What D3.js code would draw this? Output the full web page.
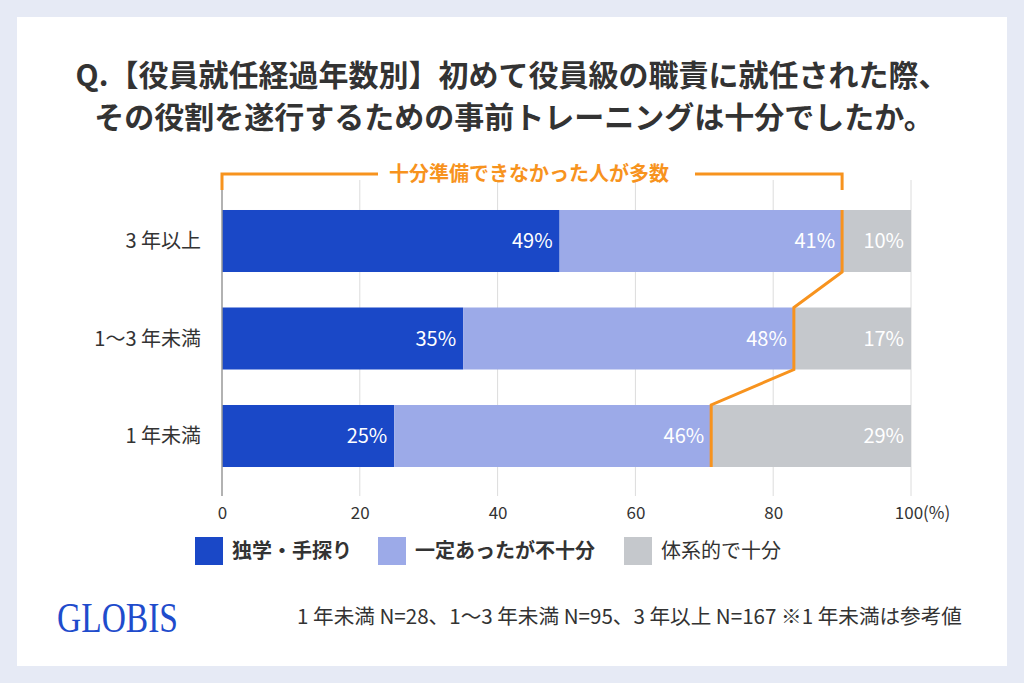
<!DOCTYPE html>
<html>
<head>
<meta charset="utf-8">
<script src="https://cdn.jsdelivr.net/npm/d3@7"></script>
<style>
  body { margin: 0; background: #e6eaf5; }
  text { font-family: "Noto Sans CJK JP", "Noto Sans", sans-serif; }
</style>
</head>
<body>
<div id="chart"></div>
<script>
// data
const categories = ["3 年以上", "1～3 年未満", "1 年未満"];
const seriesNames = ["独学・手探り", "一定あったが不十分", "体系的で十分"];
const selfTaught = [49, 35, 25];
const partial = [41, 48, 46];
const systematic = [10, 17, 29];
const xTicks = [0, 20, 40, 60, 80, 100];
const colors = ["#1a48c7", "#9caae8", "#c5c8cc"];

const svg = d3.select("#chart").append("svg")
    .attr("width", 1024)
    .attr("height", 683);

svg.append("rect").attr("width", 1024).attr("height", 683).attr("fill", "#e6eaf5");
svg.append("rect").attr("x", 17).attr("y", 17).attr("width", 990).attr("height", 649).attr("fill", "#fff");

// title
const title = svg.append("text")
    .attr("x", 512)
    .attr("text-anchor", "middle")
    .style("font-size", "30px")
    .style("font-weight", "bold")
    .attr("fill", "#333");
title.append("tspan").attr("x", 512).attr("y", 86).text("Q.【役員就任経過年数別】初めて役員級の職責に就任された際、");
title.append("tspan").attr("x", 514).attr("y", 128).text("その役割を遂行するための事前トレーニングは十分でしたか。");

const x = d3.scaleLinear().domain([0, 100]).range([222, 911]);
const y = d3.scaleBand().domain(categories).range([192.25, 484.75]).paddingInner(0.364).paddingOuter(0.182);

// grid
svg.append("g").selectAll("line")
    .data(xTicks.slice(1))
    .join("line")
    .attr("x1", d => x(d)).attr("x2", d => x(d))
    .attr("y1", 180).attr("y2", 496)
    .attr("stroke", "#dcdcdc").attr("stroke-width", 1);

// axis tick labels
const xAxis = svg.append("g")
    .attr("transform", "translate(0,496)")
    .call(d3.axisBottom(x).tickValues(xTicks).tickSize(0).tickPadding(11)
        .tickFormat(d => d === 100 ? "100(%)" : d));
xAxis.select(".domain").remove();
xAxis.selectAll("text")
    .style("font-size", "17px")
    .attr("fill", "#333")
    .style("font-family", "'Noto Sans CJK JP', sans-serif");
xAxis.selectAll(".tick").filter(d => d === 100).select("text").attr("dx", "11px");

// stacked data
const rows = categories.map((c, i) => ({ cat: c, vals: [selfTaught[i], partial[i], systematic[i]] }));
const segs = [];
rows.forEach(r => {
    let acc = 0;
    r.vals.forEach((v, k) => {
        segs.push({ cat: r.cat, k: k, x0: acc, x1: acc + v, v: v });
        acc += v;
    });
});

svg.append("g").selectAll("rect")
    .data(segs)
    .join("rect")
    .attr("x", d => x(d.x0))
    .attr("y", d => y(d.cat))
    .attr("width", d => x(d.x1) - x(d.x0))
    .attr("height", y.bandwidth())
    .attr("fill", d => colors[d.k]);

svg.append("g").selectAll("text")
    .data(segs)
    .join("text")
    .attr("x", d => x(d.x1) - 7)
    .attr("y", d => y(d.cat) + y.bandwidth() / 2)
    .attr("dy", "0.35em")
    .attr("text-anchor", "end")
    .attr("fill", "#fff")
    .style("font-size", "20px")
    .text(d => d.v + "%");

// y axis line + labels
svg.append("line")
    .attr("x1", 222).attr("x2", 222).attr("y1", 180).attr("y2", 496)
    .attr("stroke", "#999").attr("stroke-width", 1.5);

svg.append("g").selectAll("text")
    .data(categories)
    .join("text")
    .attr("x", 201)
    .attr("y", d => y(d) + y.bandwidth() / 2)
    .attr("dy", "0.35em")
    .attr("text-anchor", "end")
    .attr("fill", "#333")
    .style("font-size", "20px")
    .text(d => d);

// orange annotation
const orange = "#f7931e";
const insufficient = rows.map(r => r.vals[0] + r.vals[1]);
const pts = [];
rows.forEach((r, i) => {
    pts.push([x(insufficient[i]), y(r.cat)]);
    pts.push([x(insufficient[i]), y(r.cat) + y.bandwidth()]);
});
svg.append("path")
    .attr("d", d3.line()(pts))
    .attr("fill", "none")
    .attr("stroke", orange)
    .attr("stroke-width", 3);

const bracketY = 174;
const bx1 = x(0), bx2 = x(insufficient[0]);
svg.append("path")
    .attr("d", `M${bx1},190 V${bracketY} H378 M695,${bracketY} H${bx2} V190`)
    .attr("fill", "none")
    .attr("stroke", orange)
    .attr("stroke-width", 3);
svg.append("text")
    .attr("x", 529)
    .attr("y", bracketY)
    .attr("dy", "0.35em")
    .attr("text-anchor", "middle")
    .attr("fill", orange)
    .style("font-size", "20px")
    .style("font-weight", "bold")
    .text("十分準備できなかった人が多数");

// legend
const legendX = [195, 378, 624];
const legend = svg.append("g").selectAll("g")
    .data(seriesNames)
    .join("g")
    .attr("transform", (d, i) => `translate(${legendX[i]},537)`);
legend.append("rect").attr("width", 28).attr("height", 28).attr("fill", (d, i) => colors[i]);
legend.append("text")
    .attr("x", 37).attr("y", 14).attr("dy", "0.35em")
    .attr("fill", "#333")
    .style("font-size", "20px")
    .style("font-weight", (d, i) => i < 2 ? "bold" : "normal")
    .text(d => d);

// logo + footnote
svg.append("text")
    .attr("x", 57).attr("y", 632)
    .attr("textLength", 121).attr("lengthAdjust", "spacingAndGlyphs")
    .attr("fill", "#1f4ccc")
    .style("font-family", "'Liberation Serif', 'DejaVu Serif', serif")
    .style("font-size", "42px")
    .text("GLOBIS");

svg.append("text")
    .attr("x", 297).attr("y", 617).attr("dy", "0.35em")
    .attr("fill", "#333")
    .style("font-size", "20.6px")
    .text("1 年未満 N=28、1～3 年未満 N=95、3 年以上 N=167 ※1 年未満は参考値");
</script>
</body>
</html>
